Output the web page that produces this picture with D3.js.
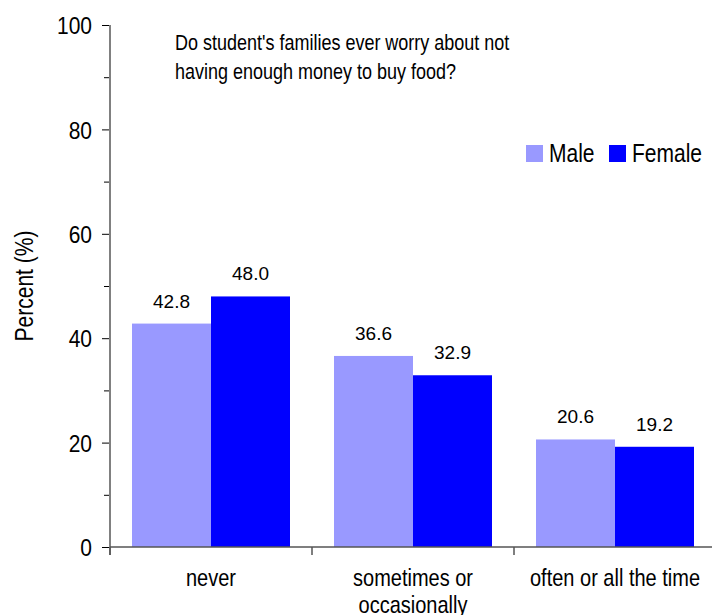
<!DOCTYPE html>
<html>
<head>
<meta charset="utf-8">
<script src="https://cdn.jsdelivr.net/npm/d3@7"></script>
<style>
  body { margin: 0; background: #fff; }
  text { font-family: "Liberation Sans", Arial, sans-serif; fill: #000; }
</style>
</head>
<body>
<div id="chart"></div>
<script>
const categories = ["never", "sometimes or\noccasionally", "often or all the time"];
const seriesNames = ["Male", "Female"];
const maleValues = [42.8, 36.6, 20.6];
const femaleValues = [48.0, 32.9, 19.2];
const majorTicks = [0, 20, 40, 60, 80, 100];
const minorTicks = [10, 30, 50, 70, 90];
const titleLines = ["Do student's families ever worry about not", "having enough money to buy food?"];

const W = 712, H = 615;
const colors = d3.scaleOrdinal().domain(seriesNames).range(["#9999ff", "#0000ff"]);

// the original text is a bit stretched vertically
const stretch = 1.25;

const svg = d3.select("#chart").append("svg")
    .attr("width", W)
    .attr("height", H);

const yScale = d3.scaleLinear().domain([0, 100]).range([547, 25]);
const xScale = d3.scaleBand().domain(categories).range([110, 716]);
const xInner = d3.scaleBand().domain(seriesNames).range([22, xScale.bandwidth() - 22]);

// helper: put a text at x,y with vertical stretch
function placeText(sel, x, y, sy) {
    return sel.attr("transform", `translate(${x},${y}) scale(1,${sy})`);
}

// y axis, major ticks with labels
svg.append("g")
    .attr("transform", "translate(110,0)")
    .call(d3.axisLeft(yScale).tickValues(majorTicks).tickSize(8).tickPadding(10))
    .call(g => g.select(".domain").remove())
    .call(g => g.selectAll("line").attr("stroke", "#000"))
    .call(g => g.selectAll("text")
        .attr("dy", "0.36em")
        .attr("transform", "scale(1,1.15)")
        .style("font-size", "21px")
        .style("font-family", "Liberation Sans, Arial, sans-serif"));

// minor ticks
svg.append("g")
    .attr("transform", "translate(110,0)")
    .call(d3.axisLeft(yScale).tickValues(minorTicks).tickSize(6).tickFormat(""))
    .call(g => g.select(".domain").remove())
    .call(g => g.selectAll("line").attr("stroke", "#000"));

// bars
const rows = categories.map((c, i) => ({ cat: c, vals: [maleValues[i], femaleValues[i]] }));
const groups = svg.selectAll(".grp")
    .data(rows)
    .enter().append("g")
    .attr("class", "grp")
    .attr("transform", d => `translate(${xScale(d.cat)},0)`);

groups.selectAll("rect")
    .data(d => d.vals.map((v, j) => ({ name: seriesNames[j], value: v })))
    .enter().append("rect")
    .attr("x", d => xInner(d.name))
    .attr("y", d => yScale(d.value))
    .attr("width", xInner.bandwidth())
    .attr("height", d => yScale(0) - yScale(d.value))
    .attr("fill", d => colors(d.name));

groups.selectAll(".val")
    .data(d => d.vals.map((v, j) => ({ name: seriesNames[j], value: v })))
    .enter().append("text")
    .attr("class", "val")
    .attr("x", d => xInner(d.name) + xInner.bandwidth() / 2)
    .attr("y", d => yScale(d.value) - 16)
    .attr("text-anchor", "middle")
    .style("font-size", "19px")
    .text(d => d.value.toFixed(1));

// axis lines
svg.append("line")
    .attr("x1", 110).attr("x2", 110)
    .attr("y1", yScale(100)).attr("y2", yScale(0) + 8)
    .attr("stroke", "#808080").attr("stroke-width", 2);

svg.append("line")
    .attr("x1", 110).attr("x2", W)
    .attr("y1", yScale(0)).attr("y2", yScale(0))
    .attr("stroke", "#555").attr("stroke-width", 1.5);

svg.selectAll(".xtick")
    .data(categories)
    .enter().append("line")
    .attr("class", "xtick")
    .attr("x1", d => xScale(d)).attr("x2", d => xScale(d))
    .attr("y1", yScale(0)).attr("y2", yScale(0) + 8)
    .attr("stroke", "#555").attr("stroke-width", 1.5);

// category labels
categories.forEach(d => {
    d.split("\n").forEach((line, i) => {
        svg.append("text")
            .attr("class", "cat")
            .attr("text-anchor", "middle")
            .style("font-size", "20px")
            .call(placeText, xScale(d) + xScale.bandwidth() / 2, 586 + i * 27, 1.22)
            .text(line);
    });
});

// y axis title
svg.append("text")
    .attr("transform", `translate(33,${(yScale(0) + yScale(100)) / 2}) rotate(-90) scale(1,1.2)`)
    .attr("text-anchor", "middle")
    .style("font-size", "21px")
    .text("Percent (%)");

// chart title
titleLines.forEach((line, i) => {
    svg.append("text")
        .attr("class", "title")
        .style("font-size", "18px")
        .call(placeText, 175, 50 + i * 29, stretch)
        .text(line);
});

// legend
const legend = svg.append("g").attr("transform", "translate(526,145)");
const legendX = [0, 83];
seriesNames.forEach((name, i) => {
    legend.append("rect")
        .attr("x", legendX[i]).attr("y", 0)
        .attr("width", 17).attr("height", 17)
        .attr("fill", colors(name));
    legend.append("text")
        .style("font-size", "21px")
        .call(placeText, legendX[i] + 23, 16.5, 1.25)
        .text(name);
});
</script>
</body>
</html>
